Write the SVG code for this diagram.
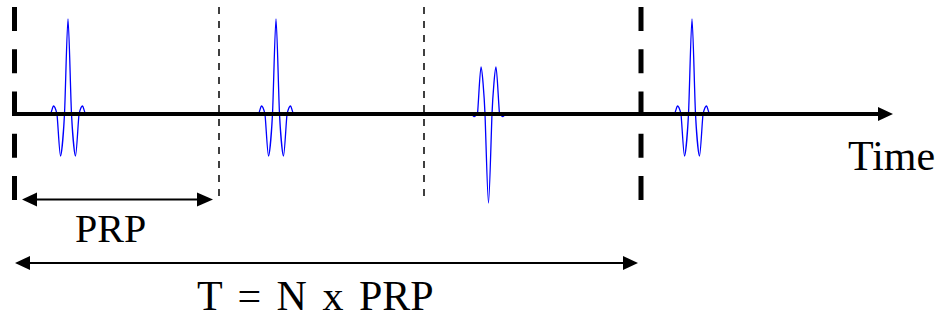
<svg xmlns="http://www.w3.org/2000/svg" width="938" height="320" viewBox="0 0 938 320">
<style>
.pulse{fill:none;stroke:#0000ff;stroke-width:1.3;stroke-linejoin:round}
.thick{stroke:#000;stroke-width:5;stroke-dasharray:24 18.25}
.thin{stroke:#000;stroke-width:1.5;stroke-dasharray:7 7}
.line{stroke:#000;fill:none}
.head{fill:#000}
text{font-family:"Liberation Serif","Times New Roman",serif;font-size:40px;fill:#000}
</style>
<defs>
<path id="up" class="pulse" d="M-20 114 H-18 C-16.5 114 -15.5 106 -14.5 106 C-13.5 106 -12 110 -11 114 C-10 124 -8.5 156 -7.5 156 C-6.5 156 -4.3 130 -3.5 114 C-2.5 94 -1 19 0 19 C1 19 2.5 94 3.5 114 C4.3 130 6.5 156 7.5 156 C8.5 156 10 124 11 114 C12 110 13.5 106 14.5 106 C15.5 106 16.5 114 18 114 H32"/>
</defs>
<g id="markers">
<line id="frame-start" class="thick" x1="14.5" y1="7" x2="14.5" y2="200"/>
<line id="frame-end" class="thick" x1="641" y1="7" x2="641" y2="200"/>
<line id="prp-1" class="thin" x1="219" y1="7" x2="219" y2="197"/>
<line id="prp-2" class="thin" x1="424" y1="7" x2="424" y2="197"/>
</g>
<g id="pulses">
<use id="pulse1" href="#up" transform="translate(68,0)"/>
<use id="pulse2" href="#up" transform="translate(276,0)"/>
<path id="pulse3" class="pulse" d="M457 114 H470.5 C472 114 473 116.5 474 116.5 C475 116.5 476.5 115 477.5 114 C478.5 104 480 67 481 67 C482 67 484.2 95 485 114 C486 140 487.5 203 488.5 203 C489.5 203 491 140 492 114 C492.8 95 495 67 496 67 C497 67 498.5 104 499.5 114 C500.5 115 502 116.5 503 116.5 C504 116.5 505 114 506.5 114 H542"/>
<use id="pulse4" href="#up" transform="translate(692,0)"/>
</g>
<g id="connectors">
<line class="line" x1="12" y1="114" x2="880" y2="114" stroke-width="4"/>
<polygon class="head" points="878,107 893,114 878,121"/>
<line class="line" x1="35" y1="199.5" x2="199" y2="199.5" stroke-width="2"/>
<polygon class="head" points="22,199.5 37,192.5 37,206.5"/>
<polygon class="head" points="213,199.5 197,192.5 197,206.5"/>
<line class="line" x1="28" y1="263" x2="625" y2="263" stroke-width="2"/>
<polygon class="head" points="15,263 30,256 30,270"/>
<polygon class="head" points="638,263 623,256 623,270"/>
</g>
<g id="labels">
<text x="848" y="170" style="font-size:42px">Time</text>
<text x="75" y="242">PRP</text>
<text x="197" y="310" style="font-size:42px;word-spacing:5px">T = N x PRP</text>
</g>
</svg>
